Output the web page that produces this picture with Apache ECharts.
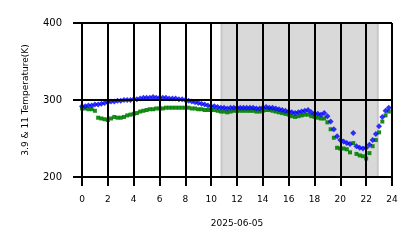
<!DOCTYPE html>
<html><head><meta charset="utf-8">
<script src="https://cdn.jsdelivr.net/npm/echarts@6/dist/echarts.min.js"></script>
<style>html,body{margin:0;padding:0;background:#fff}#c{width:418px;height:248px}</style>
</head><body><div id="c"></div>
<script>
const hours = [0,0.25,0.5,0.75,1,1.25,1.5,1.75,2,2.25,2.5,2.75,3,3.25,3.5,3.75,4,4.25,4.5,4.75,5,5.25,5.5,5.75,6,6.25,6.5,6.75,7,7.25,7.5,7.75,8,8.25,8.5,8.75,9,9.25,9.5,9.75,10,10.25,10.5,10.75,11,11.25,11.5,11.75,12,12.25,12.5,12.75,13,13.25,13.5,13.75,14,14.25,14.5,14.75,15,15.25,15.5,15.75,16,16.25,16.5,16.75,17,17.25,17.5,17.75,18,18.25,18.5,18.75,19,19.25,19.5,19.75,20,20.25,20.5,20.75,21,21.25,21.5,21.75,22,22.25,22.5,22.75,23,23.25,23.5,23.75];
const temp39 = [292,292,293,293,294,294,295,296,297,298,298,299,299,300,300,300,301,301,302,303,303,303,304,303,303,303,303,302,302,302,301,301,300,299,298,297,296,295,294,293,292,292,291,290,290,289,290,290,290,290,290,290,290,290,289,289,290,291,290,290,289,288,287,286,285,284,283,284,285,286,287,284,282,282,281,283,279,272,262,253,248,246,244,243,257,240,238,237,238,242,248,256,266,278,286,290];
const temp11 = [289,289,288,288,286,277,276,275,274,276,278,277,277,278,280,281,282,283,285,286,287,288,288,289,289,289,290,290,290,290,290,290,290,290,289,289,288,288,287,287,287,287,286,285,285,284,285,286,286,286,286,286,286,286,285,285,286,287,287,286,285,284,283,282,281,279,278,279,280,281,281,279,278,277,276,276,271,262,251,238,237,237,236,232,244,230,228,227,224,231,240,248,258,272,280,285];
const shadeRange = [10.8, 22.9];
const xTicks = {min:0, max:24, step:2};
const yTicks = {min:200, max:400, step:100};
const xTitle = '2025-06-05';
const yTitle = '3.9 & 11 Temperature(K)';

const font = 'DejaVu Sans';
const pair = (vals) => hours.map((h,i)=>[h, vals[i]]);
const chart = echarts.init(document.getElementById('c'));
const axisCommon = {
  z: 10,
  axisLine:{show:true,lineStyle:{color:'#000',width:2}},
  axisTick:{show:true,length:9,lineStyle:{color:'#000',width:2}},
  splitLine:{show:true,lineStyle:{color:'#000',width:2}},
  nameTextStyle:{fontFamily:font,fontSize:9,color:'#000'}
};
chart.setOption({
  animation:false,
  grid:{left:82,right:26,top:23,bottom:71},
  xAxis:Object.assign({}, axisCommon, {
    type:'value', min:xTicks.min, max:xTicks.max, interval:xTicks.step,
    name:xTitle, nameLocation:'middle', nameGap:42,
    axisLabel:{fontFamily:font,fontSize:9,color:'#000',margin:18}
  }),
  yAxis:Object.assign({}, axisCommon, {
    type:'value', min:yTicks.min, max:yTicks.max, interval:yTicks.step,
    name:yTitle, nameLocation:'middle', nameGap:52,
    axisLabel:{fontFamily:font,fontSize:10,color:'#000',margin:20}
  }),
  series:[
    {type:'scatter', z:1, data:[], silent:true,
     markArea:{silent:true, itemStyle:{color:'#d9d9d9', borderColor:'#c8c8c8', borderWidth:2},
       data:[[{xAxis:shadeRange[0]},{xAxis:shadeRange[1]}]]}},
    {type:'scatter', z:2, symbol:'rect', symbolSize:4, data:pair(temp11),
     itemStyle:{color:'#008000', opacity:0.9}},
    {type:'scatter', z:3, symbol:'diamond', symbolSize:6, data:pair(temp39),
     itemStyle:{color:'#0000ff', opacity:0.8}}
  ]
});
</script></body></html>
